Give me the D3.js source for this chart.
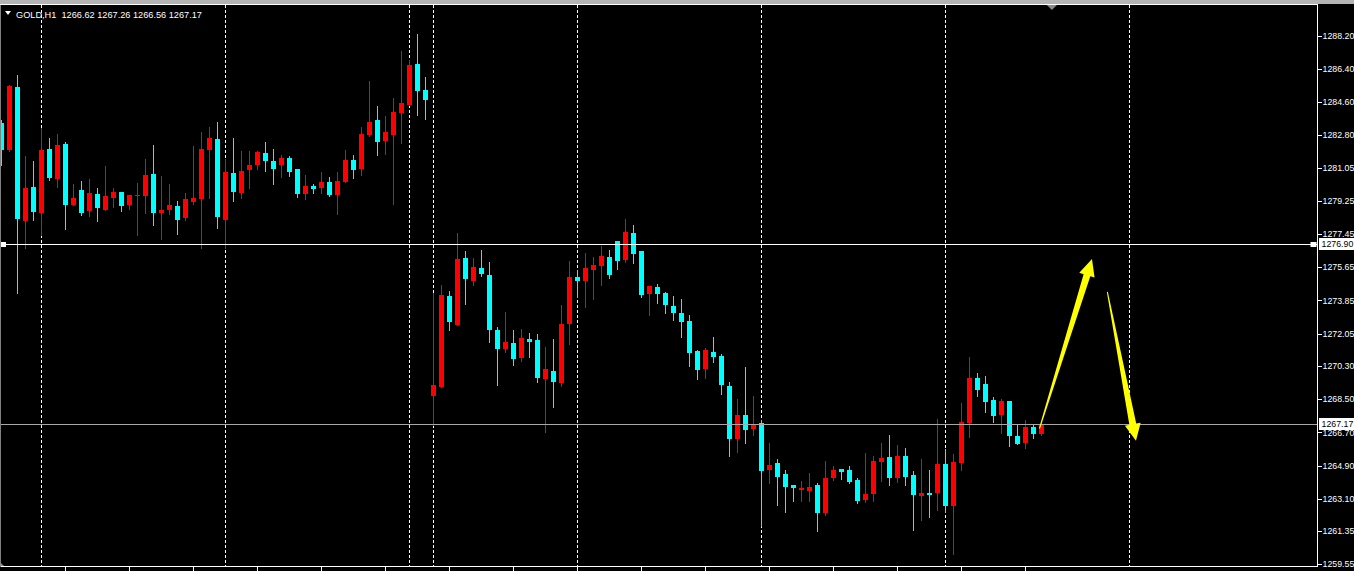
<!DOCTYPE html>
<html><head><meta charset="utf-8">
<script src="https://cdn.jsdelivr.net/npm/d3@7"></script>
<style>html,body{margin:0;padding:0;background:#000;overflow:hidden}</style>
</head><body><svg id="c" width="1354" height="571"></svg>
<script>
// ---- data (GOLD, H1) ----
const opens = [1283.46,1282.01,1285.43,1278.16,1280.00,1278.59,1282.07,1280.44,1282.34,1279.03,
1279.84,1278.70,1279.62,1278.76,1279.41,1279.73,1279.03,1279.52,1279.52,1280.71,
1278.59,1278.76,1278.97,1278.32,1279.19,1279.35,1282.01,1282.61,1278.21,1280.76,
1279.68,1280.93,1281.20,1281.85,1281.41,1281.20,1281.58,1280.98,1279.62,1280.06,
1279.95,1280.28,1279.57,1280.28,1281.47,1280.98,1282.83,1283.64,1282.50,1282.83,
1284.02,1284.45,1286.68,1285.27,1268.66,1269.15,1274.09,1272.52,1276.15,1274.90,
1275.61,1275.23,1272.25,1271.21,1271.54,1270.73,1271.76,1271.70,1269.59,1270.02,
1269.37,1272.57,1275.12,1274.90,1275.50,1275.72,1276.20,1277.07,1276.04,1277.51,
1276.53,1274.20,1274.58,1274.25,1273.55,1273.17,1272.73,1271.10,1270.13,1271.05,
1270.83,1269.21,1266.33,1267.63,1266.87,1267.20,1264.65,1265.03,1264.43,1263.83,
1263.56,1263.51,1263.83,1262.32,1264.21,1264.70,1264.65,1264.11,1263.02,1263.35,
1265.08,1265.35,1264.21,1265.41,1264.38,1263.24,1263.40,1263.40,1264.97,1262.70,
1265.03,1267.20,1269.64,1269.31,1268.45,1267.63,1268.39,1266.49,1266.11,1266.98,
1266.62];
const highs = [1283.64,1285.54,1286.08,1281.69,1281.41,1283.19,1282.66,1282.88,1282.45,1280.17,
1280.33,1280.44,1279.95,1281.14,1279.95,1279.73,1279.57,1280.22,1281.52,1282.28,
1280.60,1280.17,1279.24,1279.68,1282.23,1282.99,1283.26,1283.53,1281.52,1282.66,
1281.96,1281.96,1281.96,1282.45,1282.07,1281.74,1281.69,1280.98,1280.65,1280.17,
1280.82,1280.55,1280.82,1282.01,1281.74,1283.26,1285.75,1284.40,1283.86,1284.83,
1287.38,1286.89,1288.31,1285.97,1274.25,1274.69,1274.36,1277.51,1276.53,1276.15,
1276.58,1275.93,1272.41,1273.22,1272.25,1272.30,1272.08,1272.03,1271.32,1271.76,
1273.60,1275.99,1275.50,1276.42,1276.20,1276.80,1276.58,1277.07,1278.27,1277.94,
1276.53,1274.63,1274.74,1274.31,1274.09,1273.93,1273.06,1271.16,1271.27,1271.86,
1270.94,1269.42,1268.50,1270.24,1268.66,1267.36,1266.11,1265.24,1264.65,1263.83,
1264.05,1264.49,1263.94,1265.14,1264.87,1264.70,1264.87,1264.21,1265.57,1265.41,
1266.11,1266.55,1266.00,1265.84,1264.59,1265.24,1264.65,1267.42,1265.79,1265.52,
1268.28,1270.78,1269.91,1269.75,1268.61,1268.50,1268.39,1267.09,1267.36,1267.14,
1267.26];
const lows = [1281.20,1281.96,1274.24,1276.71,1278.21,1277.40,1280.38,1280.02,1277.72,1279.03,
1278.48,1278.43,1278.16,1278.76,1278.92,1278.70,1278.81,1277.40,1278.59,1277.94,
1277.18,1278.54,1277.45,1278.21,1279.08,1276.69,1279.41,1277.78,1276.69,1279.24,
1279.41,1279.95,1280.98,1280.87,1280.17,1280.55,1280.60,1279.46,1279.35,1279.68,
1279.68,1279.52,1278.54,1280.28,1280.49,1280.65,1282.77,1281.74,1281.79,1279.08,
1282.39,1284.45,1283.91,1283.69,1267.09,1269.15,1272.25,1272.52,1273.66,1274.69,
1275.17,1271.59,1269.26,1271.05,1270.35,1270.56,1270.78,1269.42,1266.71,1268.07,
1269.21,1271.48,1274.04,1273.49,1273.93,1274.69,1275.07,1275.55,1275.93,1275.88,
1274.04,1273.06,1273.71,1273.17,1272.79,1271.86,1270.29,1269.59,1269.64,1270.51,
1268.77,1265.41,1265.62,1266.12,1266.55,1261.61,1263.94,1262.75,1262.37,1262.97,
1262.97,1262.97,1261.34,1262.21,1264.11,1264.16,1263.94,1262.86,1262.91,1262.97,
1264.05,1263.83,1264.00,1263.83,1261.39,1261.94,1262.10,1262.48,1262.37,1260.09,
1264.65,1266.44,1268.66,1267.79,1267.25,1266.66,1265.95,1266.06,1265.84,1266.39,
1266.56];
const closes = [1282.01,1285.48,1278.27,1279.95,1278.65,1282.01,1280.49,1282.28,1279.03,1279.41,
1278.59,1279.68,1278.86,1279.52,1279.73,1278.97,1279.57,1279.57,1280.65,1278.59,
1278.76,1279.03,1278.21,1279.35,1279.41,1282.07,1282.66,1278.38,1280.82,1279.73,
1280.87,1281.20,1281.90,1281.41,1280.98,1281.58,1280.82,1279.62,1280.06,1279.90,
1280.28,1279.57,1280.33,1281.47,1280.93,1282.88,1283.53,1282.45,1282.99,1284.07,
1284.56,1286.62,1285.21,1284.72,1269.26,1274.14,1272.68,1276.10,1275.01,1275.66,
1275.28,1272.25,1271.21,1271.59,1270.67,1271.81,1271.59,1269.64,1270.13,1269.42,
1272.57,1275.12,1274.90,1275.61,1275.77,1276.26,1275.23,1275.99,1277.56,1276.37,
1274.14,1274.63,1274.20,1273.60,1273.17,1272.68,1271.00,1270.08,1271.16,1270.78,
1269.26,1266.33,1267.63,1266.82,1267.14,1264.59,1264.92,1264.27,1263.73,1263.67,
1263.67,1263.73,1262.32,1264.21,1264.65,1264.54,1264.00,1262.97,1263.35,1265.14,
1265.30,1264.21,1265.41,1264.27,1263.29,1263.40,1263.29,1264.97,1262.70,1265.08,
1267.25,1269.64,1268.99,1268.34,1267.58,1268.39,1266.49,1266.06,1266.98,1266.60,
1267.17];

const priceTicks = [1288.20,1286.40,1284.60,1282.80,1281.05,1279.25,1277.45,1275.65,1273.85,
  1272.05,1270.30,1268.50,1266.70,1264.90,1263.10,1261.35,1259.55];
const separatorBars = [5, 28, 51, 54, 72, 95, 118, 141];
const timeTickBars = [8,16,24,32,40,48,56,64,72,80,88,96,104,112,120,128];
const levelPrices = [1276.90, 1267.17];
const levelColors = ["#ffffff", "#a8a8a8"];
const arrowFromBar = [129.75, 138.23];
const arrowFromPrice = [1266.91, 1274.32];
const arrowToBar = [136.31, 141.81];
const arrowToPrice = [1276.10, 1266.24];
const headerText = "GOLD,H1  1266.62 1267.26 1266.56 1267.17";
const shiftBar = 131.3;

// ---- drawing ----
const svg = d3.select("#c");
const W = 1354, H = 571, plotRight = 1317.5, plotBottom = 566.5, plotTop = 4.5;
const x = d3.scaleLinear().domain([0, 1]).range([1.5, 9.5]);
const y = d3.scaleLinear().domain([1259.55, 1288.20]).range([564.3, 35.7]);
const FONT = "'Liberation Sans', Arial, sans-serif";

svg.append("rect").attr("width", W).attr("height", H).attr("fill", "#000");
svg.append("rect").attr("x", 0).attr("y", 0).attr("width", W).attr("height", 4).attr("fill", "#b4b4b4");

const defs = svg.append("defs");
defs.append("clipPath").attr("id", "plot").append("rect")
  .attr("x", 0).attr("y", 5).attr("width", plotRight).attr("height", plotBottom - 5);

const plot = svg.append("g").attr("clip-path", "url(#plot)");

// period separators
plot.selectAll("line.sep").data(separatorBars).join("line")
  .attr("class", "sep")
  .attr("x1", d => x(d)).attr("x2", d => x(d))
  .attr("y1", 5).attr("y2", plotBottom)
  .attr("stroke", "#fff").attr("stroke-width", 1).attr("stroke-dasharray", "3,2")
  .attr("shape-rendering", "crispEdges");

// candles
const idx = d3.range(opens.length);
const col = i => closes[i] >= opens[i] ? "#ff0000" : "#00ffff";
const cg = plot.append("g").attr("shape-rendering", "crispEdges");
cg.selectAll("line.wick").data(idx).join("line")
  .attr("class", "wick")
  .attr("x1", i => x(i)).attr("x2", i => x(i))
  .attr("y1", i => Math.round(y(highs[i]))).attr("y2", i => Math.round(y(lows[i])) + 1)
  .attr("stroke", col).attr("stroke-width", 1);
cg.selectAll("rect.body").data(idx).join("rect")
  .attr("class", "body")
  .attr("x", i => x(i) - 2.5)
  .attr("width", 5)
  .attr("y", i => Math.round(y(Math.max(opens[i], closes[i]))))
  .attr("height", i => Math.max(1, Math.round(Math.abs(y(opens[i]) - y(closes[i])))))
  .attr("fill", col);

// horizontal levels
plot.selectAll("line.level").data(levelPrices).join("line")
  .attr("class", "level")
  .attr("x1", 0).attr("x2", plotRight)
  .attr("y1", d => Math.round(y(d)) + 0.5).attr("y2", d => Math.round(y(d)) + 0.5)
  .attr("stroke", (d, i) => levelColors[i]).attr("stroke-width", 1)
  .attr("shape-rendering", "crispEdges");
// small handles on the first level line
svg.append("rect").attr("x", 0).attr("y", Math.round(y(levelPrices[0])) - 2)
  .attr("width", 6).attr("height", 5).attr("fill", "#fff");
svg.append("rect").attr("x", plotRight - 7).attr("y", Math.round(y(levelPrices[0])) - 2)
  .attr("width", 6).attr("height", 5).attr("fill", "#fff");

// arrows
function arrowPath(x0, y0, x1, y1) {
  const dx = x1 - x0, dy = y1 - y0, L = Math.hypot(dx, dy);
  const ux = dx / L, uy = dy / L, nx = -uy, ny = ux;
  const hl = 17, w0 = 1, w1 = 7, hw = 16;
  const bx = x1 - ux * hl, by = y1 - uy * hl;
  const p = [
    [x0 + nx * w0 / 2, y0 + ny * w0 / 2],
    [bx + nx * w1 / 2, by + ny * w1 / 2],
    [bx + nx * hw / 2, by + ny * hw / 2],
    [x1, y1],
    [bx - nx * hw / 2, by - ny * hw / 2],
    [bx - nx * w1 / 2, by - ny * w1 / 2],
    [x0 - nx * w0 / 2, y0 - ny * w0 / 2]
  ];
  return "M" + p.map(q => q.join(",")).join("L") + "Z";
}
plot.selectAll("path.arrow").data(d3.range(arrowFromBar.length)).join("path")
  .attr("class", "arrow")
  .attr("d", i => arrowPath(x(arrowFromBar[i]), y(arrowFromPrice[i]), x(arrowToBar[i]), y(arrowToPrice[i])))
  .attr("fill", "#ffff00");

// frame
svg.append("line").attr("x1", plotRight).attr("x2", plotRight).attr("y1", plotTop).attr("y2", plotBottom)
  .attr("stroke", "#fff").attr("shape-rendering", "crispEdges");
svg.append("line").attr("x1", 0).attr("x2", plotRight).attr("y1", plotBottom).attr("y2", plotBottom)
  .attr("stroke", "#fff").attr("shape-rendering", "crispEdges");
svg.append("line").attr("x1", 0).attr("x2", plotRight).attr("y1", plotTop).attr("y2", plotTop)
  .attr("stroke", "#fff").attr("shape-rendering", "crispEdges");
svg.append("line").attr("x1", 0.5).attr("x2", 0.5).attr("y1", plotTop).attr("y2", plotBottom)
  .attr("stroke", "#808080").attr("shape-rendering", "crispEdges");

// chart shift marker & corner marker
const sx = x(shiftBar);
svg.append("path").attr("d", `M${sx - 5},5L${sx + 5},5L${sx},10Z`).attr("fill", "#8a8a8a");
svg.append("path").attr("d", `M0,562L4,566L0,566Z`).attr("fill", "#8a8a8a");

// price axis (right)
const ax = svg.append("g");
ax.selectAll("line.tk").data(priceTicks).join("line")
  .attr("class", "tk")
  .attr("x1", plotRight).attr("x2", plotRight + 4)
  .attr("y1", d => Math.round(y(d)) + 0.5).attr("y2", d => Math.round(y(d)) + 0.5)
  .attr("stroke", "#fff").attr("shape-rendering", "crispEdges");
ax.selectAll("text.tl").data(priceTicks).join("text")
  .attr("class", "tl")
  .attr("x", 1322.5).attr("y", d => y(d))
  .attr("dy", "0.36em")
  .attr("fill", "#fff").attr("font-family", FONT).attr("font-size", "8.8px")
  .text(d => d.toFixed(2));

// price labels for levels
const lb = svg.append("g");
lb.selectAll("rect").data(levelPrices).join("rect")
  .attr("x", 1319).attr("width", 36)
  .attr("y", d => Math.round(y(d)) - 6).attr("height", 12)
  .attr("fill", "#fff");
lb.selectAll("text").data(levelPrices).join("text")
  .attr("x", 1321.5).attr("y", d => y(d)).attr("dy", "0.36em")
  .attr("fill", "#000").attr("font-family", FONT).attr("font-size", "8.8px")
  .text(d => d.toFixed(2));

// time axis ticks
svg.selectAll("line.tt").data(timeTickBars).join("line")
  .attr("class", "tt")
  .attr("x1", d => x(d)).attr("x2", d => x(d))
  .attr("y1", plotBottom).attr("y2", H)
  .attr("stroke", "#fff").attr("shape-rendering", "crispEdges");

// header
svg.append("path").attr("d", "M5,11L11,11L8,15Z").attr("fill", "#fff");
svg.append("text").attr("x", 16).attr("y", 18)
  .attr("fill", "#fff").attr("font-family", FONT).attr("font-size", "9.2px")
  .style("white-space", "pre")
  .text(headerText);
</script></body></html>
